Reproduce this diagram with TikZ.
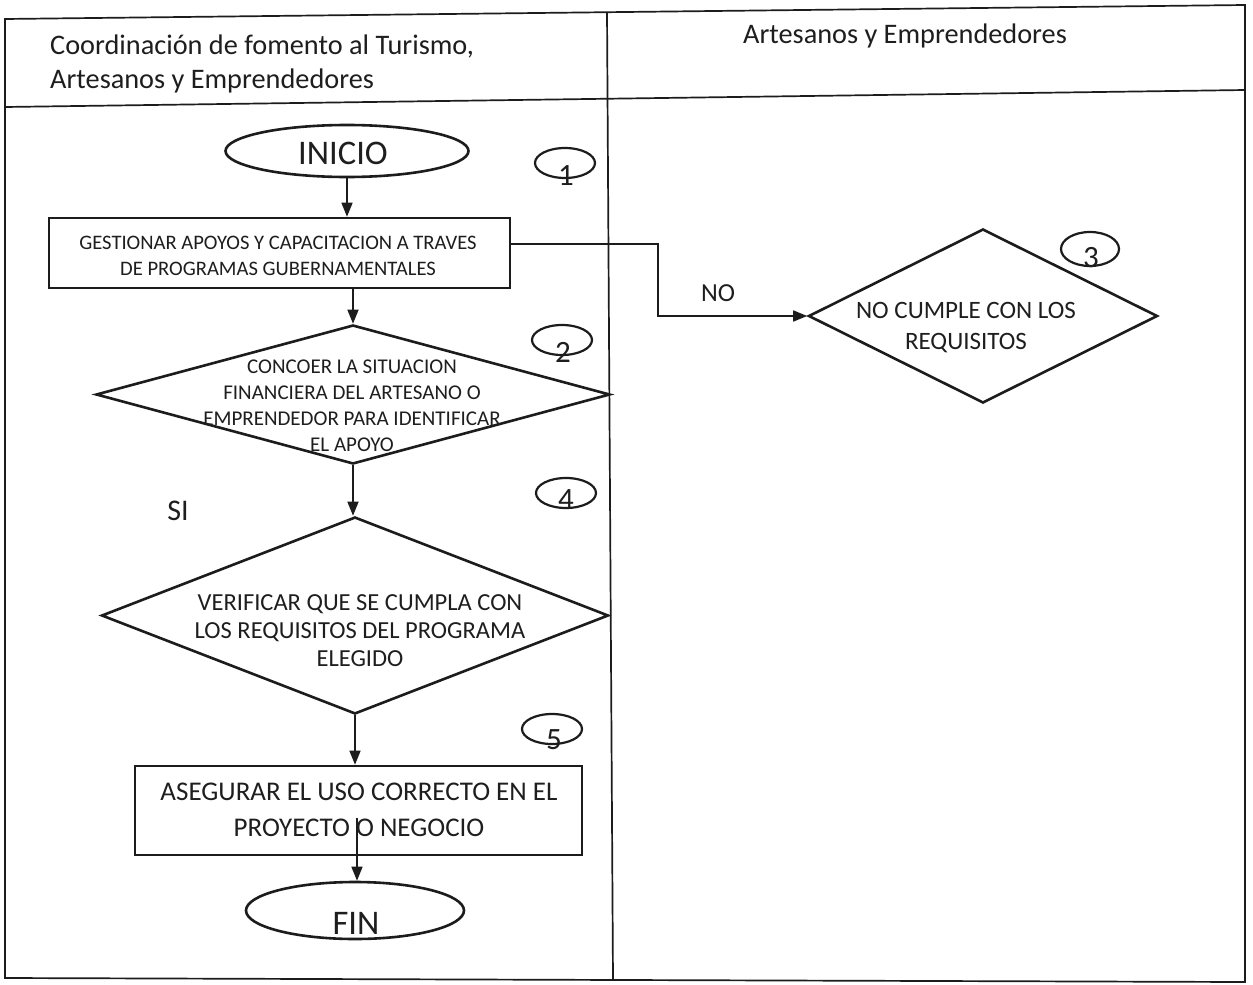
\documentclass[tikz,border=0pt]{standalone}
\usepackage{fontspec}
\setmainfont{Carlito}
\usetikzlibrary{shapes.geometric,arrows.meta}
\definecolor{ink}{HTML}{1c1c1c}
\definecolor{txt}{HTML}{1e1e1e}
\tikzset{
  frameline/.style={draw=ink, line width=1.7pt},
  shapeline/.style={draw=ink, line width=2.6pt},
  arr/.style={draw=ink, line width=1.5pt, -{Triangle[length=14pt,width=11pt]}},
  term/.style={ellipse, shapeline, inner sep=0pt},
  procbox/.style={rectangle, shapeline, inner sep=0pt},
  decbox/.style={diamond, shapeline, inner sep=0pt},
  stepmark/.style={ellipse, draw=ink, line width=2.2pt, minimum width=60pt, minimum height=30pt, inner sep=0pt},
  lbl/.style={text=txt, inner sep=0pt, align=center},
  numlbl/.style={lbl, font=\fontsize{31}{34}\selectfont},
  hdr/.style={text=txt, inner sep=0pt, font=\fontsize{28.3}{34}\selectfont},
}
\begin{document}
\begin{tikzpicture}[x=1pt, y=-1pt]
\fill[white] (0,0) rectangle (1253,985);
\useasboundingbox (0,0) rectangle (1253,985);

% frame of the table
\draw[frameline] (5,19) -- (1245,5) -- (1245,982) -- (5,978) -- cycle;
\draw[frameline] (5,107) -- (1245,90);
\draw[frameline] (607,12) -- (613,980);

% headers
\node[hdr, anchor=base west] (hA1) at (50,54) {Coordinación de fomento al Turismo,};
\node[hdr, anchor=base west] (hA2) at (50,88) {Artesanos y Emprendedores};
\node[hdr, anchor=base] (hB) at (905,43) {Artesanos y Emprendedores};

% INICIO
\node[term, minimum width=243pt, minimum height=52pt] (inicio) at (347,151) {};
\node[lbl, font=\fontsize{34.5}{40}\selectfont] (inicioT) at (343,153.5) {INICIO};
\node[stepmark] (s1) at (565,163) {};
\node[numlbl] (s1n) at (566,176) {1};

% step 1 box
\node[procbox, minimum width=461pt, minimum height=70pt] (r1) at (279.5,253) {};
\node[lbl, font=\fontsize{20.6}{25.5}\selectfont] (r1t) at (278,256)
  {GESTIONAR APOYOS Y CAPACITACION A TRAVES\\DE PROGRAMAS GUBERNAMENTALES};

% decision 2
\node[decbox, minimum width=514pt, minimum height=139pt] (d2) at (353,394.5) {};
\node[lbl, font=\fontsize{21}{26}\selectfont] (d2t) at (352,406)
  {CONCOER LA SITUACION\\FINANCIERA DEL ARTESANO O\\EMPRENDEDOR PARA IDENTIFICAR\\EL APOYO};
\node[stepmark] (s2) at (562,340) {};
\node[numlbl] (s2n) at (563,352) {2};

% decision 3 (right lane)
\node[decbox, minimum width=349pt, minimum height=174pt] (d3) at (983,316) {};
\node[lbl, font=\fontsize{25}{31}\selectfont] (d3t) at (966,328)
  {NO CUMPLE CON LOS\\REQUISITOS};
\node[stepmark, minimum width=58pt, minimum height=34pt] (s3) at (1090,249) {};
\node[numlbl] (s3n) at (1091,258) {3};

% NO connector
\coordinate (nobend) at (658,244);
\draw[arr] (r1.east |- nobend) -- (nobend) |- (d3.west);
\node[lbl, font=\fontsize{26}{30}\selectfont] (nolbl) at (718,293) {NO};

% decision 4
\node[decbox, minimum width=507pt, minimum height=197pt] (d4) at (355,615.5) {};
\node[lbl, font=\fontsize{24.5}{28}\selectfont] (d4t) at (360,631)
  {VERIFICAR QUE SE CUMPLA CON\\LOS REQUISITOS DEL PROGRAMA\\ELEGIDO};
\node[stepmark] (s4) at (566,493) {};
\node[numlbl] (s4n) at (566,500) {4};
\node[lbl, font=\fontsize{30}{34}\selectfont] (silbl) at (178,511) {SI};

% step 5 box
\node[procbox, minimum width=447pt, minimum height=89pt] (r5) at (358.5,810.5) {};
\node[lbl, font=\fontsize{27}{36}\selectfont] (r5t) at (359,810)
  {ASEGURAR EL USO CORRECTO EN EL\\PROYECTO O NEGOCIO};
\node[stepmark] (s5) at (552,729) {};
\node[numlbl] (s5n) at (554,740) {5};

% FIN
\node[term, minimum width=218pt, minimum height=57pt] (fin) at (355,910.5) {};
\node[lbl, font=\fontsize{34.5}{40}\selectfont] (finT) at (356,923.5) {FIN};

% vertical flow
\draw[arr] (inicio.south) -- (inicio.south |- r1.north);
\draw[arr] (d2.north |- r1.south) -- (d2.north);
\draw[arr] (d2.south) -- (d2.south |- d4.north);
\draw[arr] (d4.south) -- (d4.south |- r5.north);
\coordinate (r5out) at (357,818);
\draw[arr] (r5out) -- (r5out |- fin.north);
\end{tikzpicture}
\end{document}
